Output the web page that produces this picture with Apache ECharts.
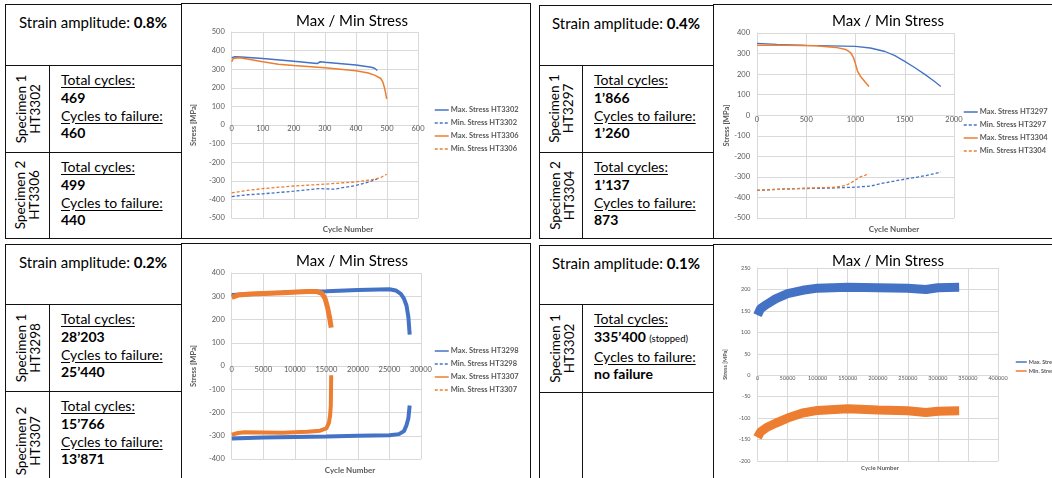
<!DOCTYPE html>
<html>
<head>
<meta charset="utf-8">
<script src="https://cdn.jsdelivr.net/npm/echarts@6/dist/echarts.min.js"></script>
<style>
html, body { margin: 0; padding: 0; width: 1052px; height: 478px; overflow: hidden; background: #fff; font-family: Lato, 'Open Sans', sans-serif; color: #000; }
.cell { position: absolute; border: 1.5px solid #111; box-sizing: border-box; }
.amp { position: absolute; font-size: 15px; text-align: center; line-height: 18px; }
.spec { position: absolute; display: flex; align-items: center; justify-content: center; text-align: center; font-size: 13.5px; line-height: 14px; transform: rotate(-90deg); }
.info { position: absolute; font-size: 14px; line-height: 17.8px; }
.info u { text-underline-offset: 2px; }
.info .small { font-size: 9.5px; font-weight: normal; }
.chart { position: absolute; }
</style>
</head>
<body>
<div id="page"></div>
<script>
// ---- data ----
// strain amplitude 0.8 %
const max3302a = [[0,362],[10,367],[30,366],[100,357],[200,343],[275,330],[285,340],[300,337],[400,322],[450,310],[460,305],[469,293]];
const min3302a = [[0,-385],[50,-375],[100,-370],[200,-356],[280,-342],[330,-345],[400,-325],[440,-307],[469,-290]];
const max3306 = [[0,340],[5,358],[25,362],[50,355],[100,340],[150,327],[200,320],[300,308],[400,292],[440,280],[460,268],[480,250],[487,230],[492,200],[496,170],[499,140]];
const min3306 = [[0,-365],[50,-352],[100,-342],[200,-328],[300,-318],[400,-306],[460,-292],[480,-282],[499,-265]];
// strain amplitude 0.4 %
const max3297 = [[0,350],[200,345],[500,340],[1000,335],[1150,327],[1300,310],[1400,290],[1500,262],[1600,232],[1700,200],[1800,165],[1866,140]];
const min3297 = [[0,-366],[300,-358],[700,-355],[1000,-350],[1150,-345],[1250,-333],[1400,-320],[1500,-311],[1700,-295],[1866,-277]];
const max3304 = [[0,340],[20,348],[300,340],[600,338],[800,330],[900,320],[950,305],[980,280],[1000,250],[1020,215],[1050,190],[1100,160],[1137,140]];
const min3304 = [[0,-365],[500,-355],[800,-350],[900,-342],[950,-330],[1000,-315],[1050,-300],[1137,-285]];
// strain amplitude 0.2 %
const max3298 = [[0,305],[5000,312],[10000,318],[15000,322],[20000,327],[25000,330],[26000,325],[26800,310],[27300,290],[27700,260],[28000,210],[28203,135]];
const min3298 = [[0,-312],[5000,-307],[10000,-305],[15000,-303],[20000,-300],[25000,-298],[26500,-293],[27300,-280],[27700,-255],[28000,-225],[28203,-170]];
const max3307 = [[0,295],[1000,305],[3000,310],[8000,315],[12000,320],[13500,320],[14300,312],[14800,290],[15200,250],[15500,210],[15766,165]];
const min3307 = [[0,-295],[1000,-288],[2000,-285],[8000,-287],[12000,-283],[14000,-278],[15000,-268],[15400,-245],[15600,-210],[15700,-170],[15766,-40]];
// strain amplitude 0.1 %
const max3302b = [[0,140],[5000,155],[15000,165],[30000,178],[50000,190],[75000,198],[100000,203],[150000,205],[200000,204],[250000,203],[280000,200],[300000,204],[335400,205]];
const min3302b = [[0,-145],[5000,-132],[15000,-122],[30000,-112],[50000,-100],[75000,-88],[100000,-82],[150000,-78],[200000,-81],[250000,-83],[280000,-87],[300000,-84],[335400,-83]];

const amplitudes = ['0.8%', '0.4%', '0.2%', '0.1%'];
const specimens = [
  [['HT3302', '469', '460'], ['HT3306', '499', '440']],
  [['HT3297', '1’866', '1’260'], ['HT3304', '1’137', '873']],
  [['HT3298', '28’203', '25’440'], ['HT3307', '15’766', '13’871']],
  [['HT3302', '335’400', 'no failure']]
];

const BLUE = '#4472C4';
const ORANGE = '#ED7D31';
const page = document.getElementById('page');

function box(x, y, w, h, cls, html) {
  const d = document.createElement('div');
  d.className = cls;
  d.style.left = x + 'px'; d.style.top = y + 'px';
  if (w != null) d.style.width = w + 'px';
  if (h != null) d.style.height = h + 'px';
  if (html) d.innerHTML = html;
  page.appendChild(d);
  return d;
}

// quadrant table: x0 = left edge, xc = inner column, xt = chart edge, y-rows
function quadrant(q, x0, xc, xt, xr, rows) {
  const [y0, y1, y2, y3] = rows;
  box(x0, y0, xt - x0 + 1, y1 - y0 + 1, 'cell');
  box(x0, y1, xc - x0 + 1, y2 - y1 + 1, 'cell');
  box(xc, y1, xt - xc + 1, y2 - y1 + 1, 'cell');
  box(x0, y2, xc - x0 + 1, y3 - y2 + 1, 'cell');
  box(xc, y2, xt - xc + 1, y3 - y2 + 1, 'cell');
  box(xt, y0 - 1, xr - xt, y3 - y0 + 2, 'cell');
  box(x0, y0 + 9, xt - x0, null, 'amp', 'Strain amplitude: <b>' + amplitudes[q] + '</b>');
  specimens[q].forEach((s, i) => {
    const ya = i === 0 ? y1 : y2, yb = i === 0 ? y2 : y3;
    const cx = (x0 + xc) / 2, cy = (ya + yb) / 2, rh = yb - ya, cw = xc - x0;
    box(cx - rh / 2, cy - cw / 2, rh, cw, 'spec', 'Specimen ' + (i + 1) + '<br>' + s[0]);
    const total = q === 3 ? s[1] + ' <span class="small">(stopped)</span>' : s[1];
    box(xc + 12, ya + 6, null, null, 'info',
      '<u>Total cycles:</u><br><b>' + total + '</b><br><u>Cycles to failure:</u><br><b>' + s[2] + '</b>');
  });
}

quadrant(0, 5, 49, 181, 531, [4, 65, 152, 238]);
quadrant(1, 539, 582, 713, 1070, [5, 65, 152, 238]);
quadrant(2, 5, 49, 181, 531, [244, 304, 391, 490]);
quadrant(3, 539, 582, 713, 1070, [245, 304, 392, 490]);

function stressChart(x, y, w, h, cfg) {
  const el = box(x, y, w, h, 'chart');
  const chart = echarts.init(el);
  const fs = cfg.fontSize;
  const grey = '#595959';
  // x axis sits on the zero line of the stress axis
  const zeroOffset = -cfg.grid.height * (0 - cfg.yMin) / (cfg.yMax - cfg.yMin);
  chart.setOption({
    animation: false,
    title: [
      { text: 'Max / Min Stress', left: cfg.titleX, top: 9, textAlign: 'center', padding: 0,
        textStyle: { fontFamily: 'Lato', fontSize: 15, fontWeight: 'normal', color: '#000' } },
      { text: 'Cycle Number', left: cfg.xNameX, top: cfg.xNameY, textAlign: 'center', padding: 0,
        textStyle: { fontFamily: 'Lato', fontSize: fs + 0.5, fontWeight: 'bold', color: grey } }
    ],
    grid: cfg.grid,
    legend: {
      orient: 'vertical', left: cfg.legend.left, top: cfg.legend.top,
      itemWidth: cfg.legend.itemWidth, itemHeight: cfg.legend.itemHeight, itemGap: cfg.legend.itemGap,
      padding: 0,
      textStyle: { fontFamily: 'Lato', fontSize: cfg.legend.fontSize, fontWeight: 'bold', color: grey, padding: [0, 0, 0, -3] },
      data: cfg.series.map(s => ({
        name: s.name,
        itemStyle: { opacity: 0 },
        lineStyle: { type: s.dashed ? [3, 2] : 'solid', width: 1.5 }
      }))
    },
    xAxis: {
      type: 'value', min: 0, max: cfg.xMax, interval: cfg.xStep,
      offset: zeroOffset,
      axisLine: { onZero: false, lineStyle: { color: '#d9d9d9' } },
      axisTick: { show: false },
      axisLabel: { fontFamily: 'Lato', fontSize: fs, color: grey, margin: 0, formatter: v => String(v) },
      splitLine: { lineStyle: { color: '#d9d9d9' } }
    },
    yAxis: {
      type: 'value', min: cfg.yMin, max: cfg.yMax, interval: cfg.yStep,
      name: 'Stress [MPa]', nameLocation: 'middle', nameGap: cfg.nameGap,
      nameTextStyle: { fontFamily: 'Lato', fontSize: fs, fontWeight: 'bold', color: grey },
      axisLine: { show: true, lineStyle: { color: '#d9d9d9' } },
      axisTick: { show: false },
      axisLabel: { fontFamily: 'Lato', fontSize: fs, color: grey, margin: 7, formatter: v => String(v) },
      splitLine: { lineStyle: { color: '#d9d9d9' } }
    },
    series: cfg.series.map(s => ({
      name: s.name, type: 'line', data: s.data, symbol: 'none', smooth: false,
      color: s.color,
      lineStyle: { color: s.color, width: s.width, type: s.dashed && s.width < 3 ? [3, 2] : 'solid' }
    }))
  });
  return chart;
}

const legendBig = { left: 252, top: 101, itemWidth: 14, itemHeight: 8, itemGap: 5, fontSize: 7.5 };

stressChart(182, 5, 349, 233, {
  fontSize: 7.5, titleX: 170, xNameX: 166, xNameY: 220, nameGap: 24,
  grid: { left: 41, top: 27, width: 195, height: 186 },
  xMax: 600, xStep: 100, yMin: -500, yMax: 500, yStep: 100,
  legend: legendBig,
  series: [
    { name: 'Max. Stress HT3302', data: max3302a, color: BLUE, width: 1.5 },
    { name: 'Min. Stress HT3302', data: min3302a, color: BLUE, width: 1.3, dashed: true },
    { name: 'Max. Stress HT3306', data: max3306, color: ORANGE, width: 1.5 },
    { name: 'Min. Stress HT3306', data: min3306, color: ORANGE, width: 1.3, dashed: true }
  ]
});

stressChart(714, 5, 400, 233, {
  fontSize: 7.5, titleX: 174, xNameX: 180, xNameY: 220, nameGap: 25,
  grid: { left: 43, top: 28, width: 197, height: 185 },
  xMax: 2000, xStep: 500, yMin: -500, yMax: 400, yStep: 100,
  legend: Object.assign({}, legendBig, { left: 249, top: 103 }),
  series: [
    { name: 'Max. Stress HT3297', data: max3297, color: BLUE, width: 1.3 },
    { name: 'Min. Stress HT3297', data: min3297, color: BLUE, width: 1.3, dashed: true },
    { name: 'Max. Stress HT3304', data: max3304, color: ORANGE, width: 1.5 },
    { name: 'Min. Stress HT3304', data: min3304, color: ORANGE, width: 1.3, dashed: true }
  ]
});

stressChart(182, 245, 349, 233, {
  fontSize: 7.5, titleX: 170, xNameX: 168, xNameY: 221, nameGap: 24,
  grid: { left: 41, top: 28, width: 198, height: 186 },
  xMax: 30000, xStep: 5000, yMin: -400, yMax: 400, yStep: 100,
  legend: Object.assign({}, legendBig, { top: 102 }),
  series: [
    { name: 'Max. Stress HT3298', data: max3298, color: BLUE, width: 4 },
    { name: 'Min. Stress HT3298', data: min3298, color: BLUE, width: 4, dashed: true },
    { name: 'Max. Stress HT3307', data: max3307, color: ORANGE, width: 5 },
    { name: 'Min. Stress HT3307', data: min3307, color: ORANGE, width: 4, dashed: true }
  ]
});

stressChart(714, 245, 400, 233, {
  fontSize: 5.5, titleX: 174, xNameX: 166, xNameY: 220, nameGap: 18,
  grid: { left: 35, top: 23, width: 249, height: 193 },
  xMax: 400000, xStep: 50000, yMin: -200, yMax: 250, yStep: 50,
  legend: { left: 301, top: 114, itemWidth: 11, itemHeight: 6, itemGap: 3, fontSize: 5.5 },
  series: [
    { name: 'Max. Stress HT3302', data: max3302b, color: BLUE, width: 9 },
    { name: 'Min. Stress HT3302', data: min3302b, color: ORANGE, width: 9 }
  ]
});
</script>
</body>
</html>
